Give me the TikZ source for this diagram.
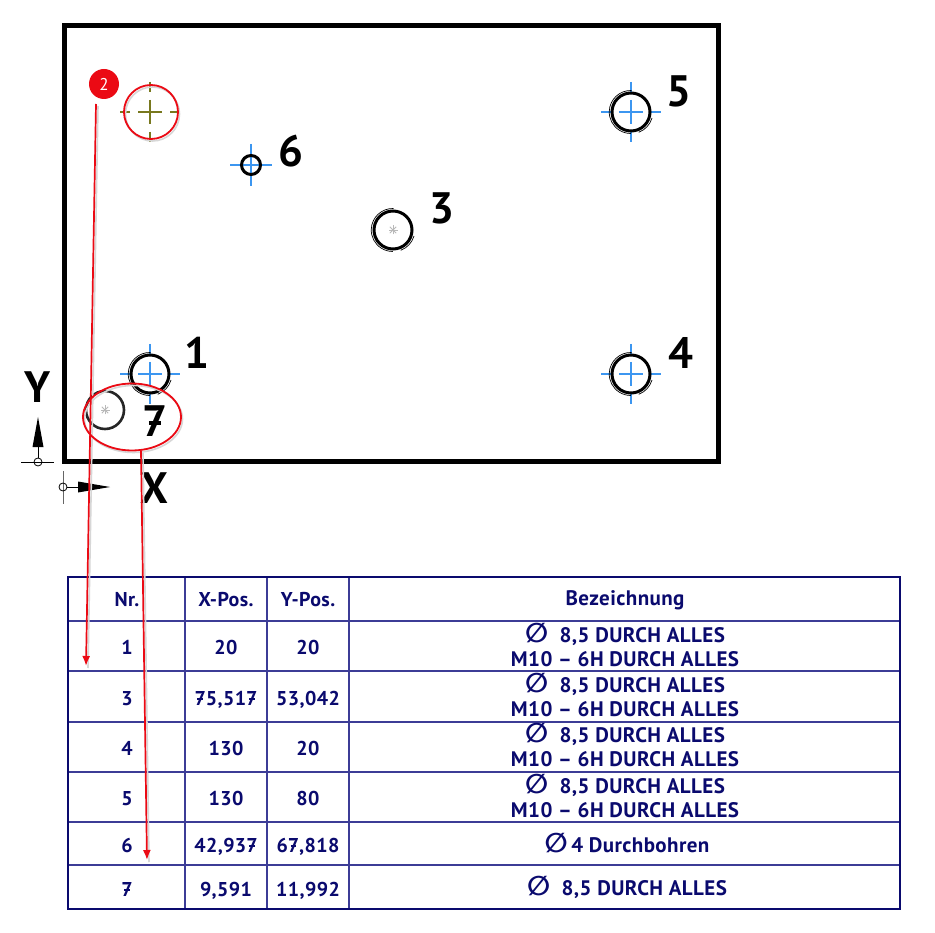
\documentclass[tikz,border=0pt]{standalone}
\usepackage{fontspec}
\setmainfont{PT Sans}[LetterSpace=2]
\newfontfamily\labfont{PT Sans}
\newfontfamily\symfont{DejaVu Sans}
\usetikzlibrary{arrows.meta,calc}
\definecolor{navy}{RGB}{10,10,110}
\definecolor{gridc}{RGB}{60,60,150}
\definecolor{cadblue}{RGB}{60,150,240}
\definecolor{oliv}{RGB}{120,120,30}
\definecolor{redm}{RGB}{235,10,20}
\definecolor{shad}{RGB}{215,215,215}
\newcommand{\sv}{\ooalign{7\cr\hss\raisebox{0.27em}{\rule{0.28em}{0.08em}}\hss\cr}}
\newcommand{\dia}{{\symfont\fontsize{27}{24}\selectfont\char"2205\relax}}
\tikzset{
  x=1pt,y=-1pt,
  big/.style={inner sep=0,text=black,font=\labfont\bfseries\fontsize{44}{44}\selectfont},
  cell/.style={inner sep=0,text=navy,align=center,font=\bfseries\fontsize{21}{24.5}\selectfont},
  numcell/.style={cell,anchor=base,font=\bfseries\fontsize{20}{24.5}\selectfont},
  hole/.style={circle,draw=black,line width=3pt,minimum size=#1,inner sep=0},
  sketch/.style={draw=black,line width=.7pt},
  cross/.style={draw=#1,line width=1.2pt},
  redline/.style={draw=redm,line width=1.7pt},
  redmark/.style={draw=redm,line width=1.8pt,fill=none},
  shadow line/.style={draw=shad,line width=1.6pt},
  grid line/.style={draw=gridc,line width=1.2pt},
  starline/.style={draw=gray!55,line width=.9pt}
}
\newcommand{\centermark}[2]{% centre, colour
  \draw[cross=#2] ($(#1)+(-12,0)$) -- ($(#1)+(12,0)$);
  \draw[cross=#2] ($(#1)+(0,-12)$) -- ($(#1)+(0,12)$);
  \draw[cross=#2] ($(#1)+(-30,0)$) -- ($(#1)+(-20,0)$);
  \draw[cross=#2] ($(#1)+(20,0)$) -- ($(#1)+(30,0)$);
  \draw[cross=#2] ($(#1)+(0,-30)$) -- ($(#1)+(0,-20)$);
  \draw[cross=#2] ($(#1)+(0,20)$) -- ($(#1)+(0,30)$);
}
\newcommand{\sketcharc}[1]{%
  \draw[sketch] ($(#1)+(0.5,-21.5)$) arc[start angle=-88,end angle=-270,radius=21.5];
  \draw[sketch] ($(#1)+(21,6)$) arc[start angle=16,end angle=70,radius=21.5];
}
\newcommand{\starmark}[1]{%
  \foreach \ang in {0,45,90,135}
    \draw[starline] ($(#1)+(\ang:4.5)$) -- ($(#1)+(\ang+180:4.5)$);
}
\begin{document}
\begin{tikzpicture}
\useasboundingbox (0,0) rectangle (935,933);
\fill[white] (0,0) rectangle (935,933);
% plate
\draw[black,line width=5pt,line join=miter] (64,26) rectangle (718,461);
% centre marks
\coordinate (c1) at (150,374);
\coordinate (c3) at (393,230);
\coordinate (c4) at (631,374);
\coordinate (c5) at (631,112);
\coordinate (c6) at (251,165);
\coordinate (c2) at (150,112);
\coordinate (c7) at (105,410);
\centermark{c1}{cadblue}
\centermark{c4}{cadblue}
\centermark{c5}{cadblue}
\centermark{c2}{oliv}
\draw[cross=cadblue] ($(c6)+(-21,0)$) -- ($(c6)+(21,0)$);
\draw[cross=cadblue] ($(c6)+(0,-21)$) -- ($(c6)+(0,21)$);
% holes
\node[hole=38pt] (h1) at (c1) {};
\node[hole=38pt] (h3) at (c3) {};
\node[hole=38pt] (h4) at (c4) {};
\node[hole=38pt] (h5) at (c5) {};
\node[hole=19pt] (h6) at (c6) {};
\node[hole=38pt,line width=2.6pt,draw=black!85] (h7) at (c7) {};
\sketcharc{c1}\sketcharc{c3}\sketcharc{c4}\sketcharc{c5}
\starmark{c3}\starmark{c7}
% labels
\node[big] (n1) at (197,353) {1};
\node[big] (n3) at (442,208) {3};
\node[big] (n4) at (681,353) {4};
\node[big] (n5) at (679,91) {5};
\node[big] (n6) at (291,151) {6};
\node[big] (n7) at (155,421) {\sv};
\node[big] (ny) at (38,387) {Y};
\node[big] (nx) at (154,488) {X};
% axes
\coordinate (yo) at (38,462);
\coordinate (xo) at (63,487);
\draw[black,line width=.8pt] (21,462) -- (54,462);
\draw[black!60,line width=1pt] (63,471) -- (63,504);
\node[circle,draw=black,line width=.8pt,minimum size=8pt,inner sep=0] (yc) at (yo) {};
\node[circle,draw=black,line width=.8pt,minimum size=8pt,inner sep=0] (xc) at (xo) {};
\fill[black] (38,417) -- (43.5,447) -- (32.5,447) -- cycle;
\draw[black,line width=.8pt] (38,447) -- (yc);
\fill[black] (110,487) -- (78,481.5) -- (78,492.5) -- cycle;
\draw[black,line width=.8pt] (xc) -- (78,487);
% table
\foreach \y in {621,671,722,772,822,865}
  \draw[grid line] (68,\y) -- (900,\y);
\foreach \x in {185,267,349}
  \draw[grid line] (\x,577) -- (\x,909);
\draw[navy,line width=1.8pt] (68,577) rectangle (900,909);
\foreach \nm/\yy/\a/\b/\c in {h/606/Nr./X-Pos./Y-Pos.,r1/654/1/20/20,r3/705/3/{\sv5,51\sv}/{53,042},r4/755/4/130/20,r5/805/5/130/80,r6/852/6/{42,93\sv}/{6\sv,818},r7/896/\sv/{9,591}/{11,992}}{
  \node[numcell] (\nm a) at (127,\yy) {\a};
  \node[numcell] (\nm b) at (226,\yy) {\b};
  \node[numcell] (\nm c) at (308,\yy) {\c};
}
\node[cell] (hd) at (625,600) {Bezeichnung};
\foreach \nm/\yy in {d1/645,d3/695,d4/745,d5/796}
  \node[cell] (\nm) at (625,\yy) {\dia\ \ 8,5 DURCH ALLES\\M10 -- 6H DURCH ALLES};
\node[cell] (d6) at (627,843) {\dia\,4 Durchbohren};
\node[cell] (d7) at (627,887) {\dia\ \ 8,5 DURCH ALLES};
% red mark-up
\coordinate (as) at (96,104);
\coordinate (ae) at (86,666);
\coordinate (bs) at (141,451);
\coordinate (be) at (147,860);
\draw[shadow line] ($(as)+(2,2)$) -- ($(ae)+(2,2)$);
\draw[shadow line] ($(bs)+(2,2)$) -- ($(be)+(2,2)$);
\draw[shad,line width=1.6pt] (152.5,114) circle[radius=27];
\draw[shad,line width=1.6pt] (133.5,419) ellipse[x radius=49,y radius=33.5];
\node[circle,fill=redm,minimum size=30pt,inner sep=0,text=white,font=\labfont\fontsize{17}{17}\selectfont] (badge) at (104,84) {2};
\draw[redmark] (151,112) circle[radius=27];
\draw[redmark] (132,417) ellipse[x radius=49,y radius=33.5];
\draw[redline,-{Latex[length=10pt,width=8pt]}] (as) -- (ae);
\draw[redline,-{Latex[length=10pt,width=8pt]}] (bs) -- (be);
\end{tikzpicture}
\end{document}
